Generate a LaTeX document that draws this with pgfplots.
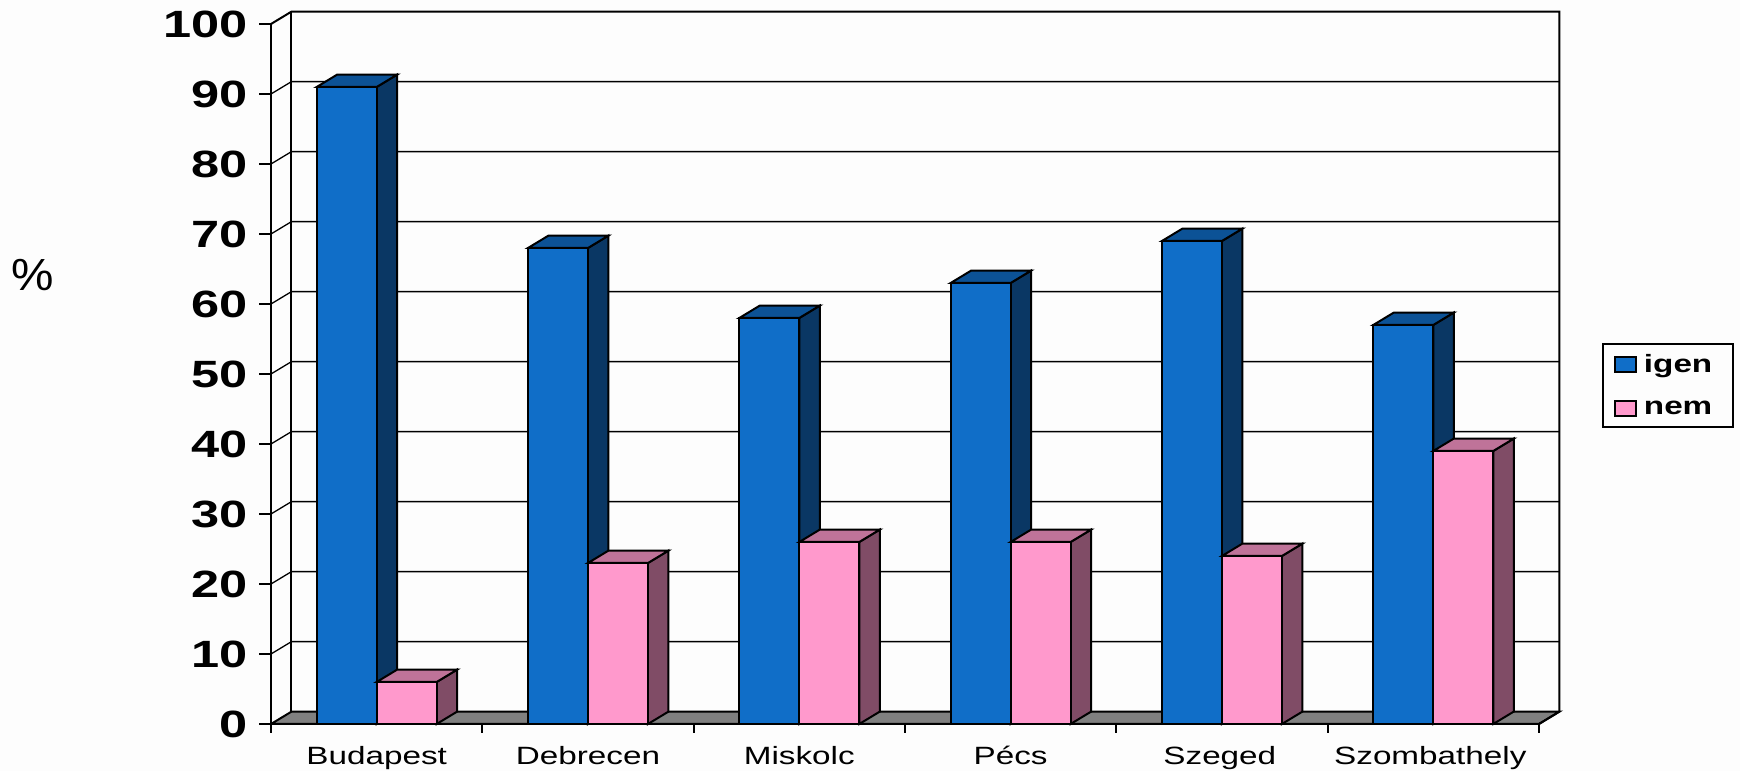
\documentclass[border=0pt]{standalone}
\usepackage{fontspec}
\usepackage{pgfplots}
\usepackage{pgfplotstable}
\pgfplotsset{compat=1.18}
\setmainfont{Liberation Sans}[FakeStretch=1.33]
\newfontfamily\plainfont{Liberation Sans}[FakeStretch=1.06]

\definecolor{pagebg}{HTML}{FDFDFD}
\definecolor{igenfront}{HTML}{106EC8}
\definecolor{igentop}{HTML}{0C5296}
\definecolor{igenside}{HTML}{0A3764}
\definecolor{nemfront}{HTML}{FF99CC}
\definecolor{nemtop}{HTML}{BF7399}
\definecolor{nemside}{HTML}{804C66}

\pgfplotstableread{
x igen nem
0.5 91 6
1.5 68 23
2.5 58 26
3.5 63 26
4.5 69 24
5.5 57 39
}\datatable

% depth of the fake 3d, in axis units
\def\ddx{0.097}
\def\ddy{1.77}
\def\bw{0.2839}

% side and top face of one bar: left edge, value, top colour, side colour
\newcommand{\barfaces}[4]{%
  \pgfmathsetmacro{\xl}{#1}%
  \pgfmathsetmacro{\xr}{#1+\bw}%
  \pgfmathsetmacro{\xlb}{#1+\ddx}%
  \pgfmathsetmacro{\xrb}{#1+\bw+\ddx}%
  \pgfmathsetmacro{\yt}{#2}%
  \pgfmathsetmacro{\ytb}{#2+\ddy}%
  \addplot[forget plot, fill=#4, draw=black, line width=2pt] coordinates
    {(\xr,0) (\xrb,\ddy) (\xrb,\ytb) (\xr,\yt)} --cycle;
  \addplot[forget plot, fill=#3, draw=black, line width=2pt] coordinates
    {(\xl,\yt) (\xlb,\ytb) (\xrb,\ytb) (\xr,\yt)} --cycle;
}

\begin{document}
\begin{tikzpicture}[x=1pt,y=1pt]
\useasboundingbox (0,0) rectangle (1740,771);
\fill[pagebg] (0,0) rectangle (1740,771);
\begin{axis}[
  at={(271pt,47pt)}, anchor=south west,
  scale only axis, width=1268pt, height=700pt,
  xmin=0, xmax=6, ymin=0, ymax=100,
  clip=false,
  axis x line*=bottom, axis y line*=left,
  axis line style={line width=2pt},
  tick align=outside,
  major tick length=12pt,
  tick style={black, line width=2pt},
  xtick={0,1,2,3,4,5,6},
  xtick style={/pgfplots/major tick length=9pt},
  xticklabels={},
  extra x ticks={0.5,1.5,2.5,3.5,4.49,5.486},
  extra x tick labels={Budapest,Debrecen,Miskolc,Pécs,Szeged,Szombathely},
  extra x tick style={tick style={draw=none}},
  x tick label style={font=\fontsize{25}{25}\selectfont, anchor=base, inner sep=0pt, yshift=-28pt},
  ytick={0,10,...,100},
  /pgf/number format/assume math mode=true,
  y tick label style={font=\fontsize{38}{38}\selectfont\bfseries, inner sep=0pt, xshift=-11pt},
  ylabel={\%},
  every axis y label/.style={at={(rel axis cs:-0.1879,0.6414)}, anchor=center,
    font=\fontsize{45}{45}\plainfont},
  legend image code/.code={\draw[#1, line width=2pt] (0pt,-7.5pt) rectangle (21pt,7.5pt); \path (26pt,0pt);},
  legend cell align=left,
  legend style={at={(1.0497,0.544)}, anchor=north west, draw=black, line width=2pt,
    fill=pagebg, font=\fontsize{25}{25}\selectfont\bfseries,
    row sep=23pt, inner xsep=11pt, inner ysep=8.5pt},
]
% floor
\addplot[forget plot, fill=gray, draw=black, line width=2pt] coordinates
  {(0,0) (\ddx,\ddy) (6.097,\ddy) (6,0)} --cycle;
% back wall
\pgfplotsforeachungrouped \v in {10,20,...,90}{
  \pgfmathsetmacro{\vb}{\v+\ddy}
  \addplot[forget plot, black, line width=1.3pt] coordinates
    {(0,\v) (\ddx,\vb) (6.097,\vb)};
}
\addplot[forget plot, black, line width=2pt] coordinates
  {(0,100) (\ddx,101.77) (6.097,101.77) (6.097,\ddy) (6,0)};
\addplot[forget plot, black, line width=2pt] coordinates
  {(\ddx,\ddy) (\ddx,101.77)};
% blue bars
\pgfplotsforeachungrouped \i in {0,...,5}{
  \pgfplotstablegetelem{\i}{x}\of\datatable \let\cx\pgfplotsretval
  \pgfplotstablegetelem{\i}{igen}\of\datatable \let\cv\pgfplotsretval
  \pgfmathsetmacro{\lx}{\cx-\bw}
  \barfaces{\lx}{\cv}{igentop}{igenside}
}
\addplot[ybar, bar width=60pt, bar shift=-30pt, fill=igenfront, draw=black, line width=2pt]
  table[x=x, y=igen] {\datatable};
\addlegendentry{igen\hspace*{8pt}}
% pink bars
\pgfplotsforeachungrouped \i in {0,...,5}{
  \pgfplotstablegetelem{\i}{x}\of\datatable \let\cx\pgfplotsretval
  \pgfplotstablegetelem{\i}{nem}\of\datatable \let\cv\pgfplotsretval
  \barfaces{\cx}{\cv}{nemtop}{nemside}
}
\addplot[ybar, bar width=60pt, bar shift=30pt, fill=nemfront, draw=black, line width=2pt]
  table[x=x, y=nem] {\datatable};
\addlegendentry{nem\hspace*{8pt}}
\end{axis}
\end{tikzpicture}
\end{document}
